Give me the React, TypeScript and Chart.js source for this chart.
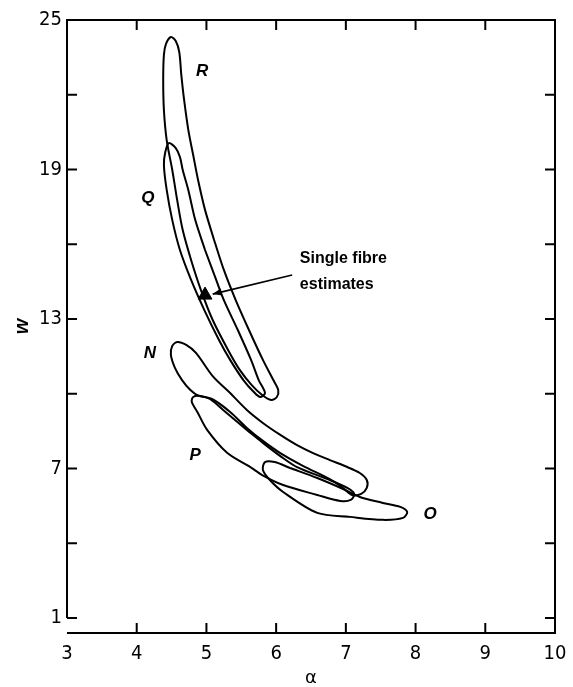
import React, { useEffect, useRef } from "react";
import { Chart, registerables } from "chart.js";

Chart.register(...registerables);

// ---- axis values ----
const X_MIN = 3;
const X_MAX = 10;
const Y_MIN = 0.4;
const Y_MAX = 25;
const X_TICKS = [3, 4, 5, 6, 7, 8, 9, 10];
const X_INNER_TICKS = [4, 5, 6, 7, 8, 9];
const Y_LABEL_TICKS = [1, 7, 13, 19, 25];
const Y_INNER_TICKS = [1, 4, 7, 10, 13, 16, 19, 22];

// ---- contours (alpha, w) ----
const contourR: number[][] = [
  [5.11, 16.17], [5.25, 14.97], [5.42, 13.76], [5.61, 12.56], [5.81, 11.36], [5.96, 10.55],
  [6.03, 10.15], [6.01, 9.87], [5.93, 9.75], [5.8, 9.95], [5.65, 10.35], [5.48, 10.95],
  [5.31, 11.76], [5.09, 12.96], [4.92, 14.17], [4.78, 15.37], [4.66, 16.57], [4.58, 17.78],
  [4.51, 18.98], [4.43, 20.18], [4.39, 21.39], [4.38, 22.59], [4.39, 23.6], [4.42, 24.04],
  [4.49, 24.32], [4.56, 24.16], [4.61, 23.72], [4.64, 22.79], [4.68, 21.79], [4.74, 20.59],
  [4.81, 19.58], [4.88, 18.58], [4.98, 17.38],
];
const contourQ: number[][] = [
  [4.98, 15.77], [5.14, 14.57], [5.25, 13.76], [5.45, 12.56], [5.64, 11.36], [5.75, 10.55],
  [5.84, 10.03], [5.77, 9.87], [5.68, 10.07], [5.53, 10.55], [5.34, 11.36], [5.18, 12.16],
  [4.97, 13.36], [4.78, 14.57], [4.62, 15.77], [4.51, 16.97], [4.43, 18.18], [4.39, 19.18],
  [4.41, 19.7], [4.46, 20.06], [4.56, 19.86], [4.62, 19.5], [4.66, 18.98], [4.74, 18.18],
  [4.84, 16.97],
];
const contourN: number[][] = [
  [5.34, 10.03], [5.58, 9.35], [5.81, 8.83], [6.06, 8.35], [6.3, 7.94], [6.53, 7.62],
  [6.77, 7.34], [7.02, 7.06], [7.2, 6.82], [7.3, 6.54], [7.3, 6.22], [7.22, 5.98],
  [7.09, 5.94], [6.96, 6.22], [6.77, 6.58], [6.39, 7.1], [6.06, 7.62], [5.81, 8.11],
  [5.58, 8.63], [5.34, 9.27], [5.08, 9.79], [4.88, 9.93], [4.77, 10.15], [4.65, 10.55],
  [4.55, 11.03], [4.49, 11.56], [4.51, 11.92], [4.58, 12.08], [4.71, 11.96], [4.85, 11.64],
  [5.09, 10.71],
];
const contourP: number[][] = [
  [5.58, 8.55], [5.81, 8.03], [6.06, 7.5], [6.3, 7.06], [6.77, 6.54], [7.02, 6.22],
  [7.12, 5.98], [7.07, 5.74], [6.92, 5.7], [6.59, 5.94], [6.1, 6.34], [5.8, 6.74],
  [5.63, 7.06], [5.3, 7.62], [5.01, 8.55], [4.87, 9.27], [4.79, 9.67], [4.81, 9.87],
  [4.91, 9.91], [5.05, 9.79], [5.24, 9.35],
];
const contourO: number[][] = [
  [6.2, 7.02], [6.59, 6.62], [6.96, 6.18], [7.2, 5.86], [7.53, 5.62], [7.78, 5.46],
  [7.88, 5.26], [7.82, 5.02], [7.53, 4.94], [7.06, 5.06], [6.59, 5.22], [6.1, 6.06],
  [5.91, 6.54], [5.81, 6.94], [5.84, 7.26], [5.98, 7.26],
];
const CONTOURS = [contourR, contourQ, contourN, contourP, contourO];

// ---- single fibre estimate ----
const SINGLE_FIBRE = [{ x: 4.98, y: 13.96 }];

// ---- labels / annotation (data coordinates) ----
const CONTOUR_LABELS = [
  { text: "R", x: 4.94, y: 22.95 },
  { text: "Q", x: 4.16, y: 17.86 },
  { text: "N", x: 4.19, y: 11.64 },
  { text: "P", x: 4.84, y: 7.54 },
  { text: "O", x: 8.21, y: 5.18 },
];
const NOTE_LINES = ["Single fibre", "estimates"];
const NOTE_X = 6.34;
const NOTE_Y = [15.41, 14.37];
const ARROW_FROM = { x: 6.23, y: 14.77 };
const ARROW_TO = { x: 5.09, y: 14.0 };

const TICK_FONT = "'Liberation Sans Narrow', 'DejaVu Sans Condensed', 'Liberation Sans', sans-serif";

const decorPlugin = {
  id: "decor",
  afterDatasetsDraw(chart: any) {
    const { ctx, chartArea: a } = chart;
    const xs = chart.scales.x;
    const ys = chart.scales.y;
    const T = 10;
    ctx.save();
    ctx.strokeStyle = "#000";
    ctx.fillStyle = "#000";
    ctx.lineWidth = 2;
    // frame (open bottom-left corner as in the original)
    ctx.beginPath();
    ctx.moveTo(a.left, ys.getPixelForValue(Y_INNER_TICKS[0]));
    ctx.lineTo(a.left, a.top);
    ctx.lineTo(a.right, a.top);
    ctx.lineTo(a.right, a.bottom);
    ctx.lineTo(a.left, a.bottom);
    ctx.stroke();
    // inward ticks
    ctx.beginPath();
    for (const v of X_INNER_TICKS) {
      const px = xs.getPixelForValue(v);
      ctx.moveTo(px, a.bottom);
      ctx.lineTo(px, a.bottom - T);
      ctx.moveTo(px, a.top);
      ctx.lineTo(px, a.top + T);
    }
    for (const v of Y_INNER_TICKS) {
      const py = ys.getPixelForValue(v);
      ctx.moveTo(a.left, py);
      ctx.lineTo(a.left + T, py);
      ctx.moveTo(a.right, py);
      ctx.lineTo(a.right - T, py);
    }
    ctx.stroke();
    // contour labels
    ctx.font = "italic bold 17px 'Liberation Sans', sans-serif";
    ctx.textAlign = "center";
    ctx.textBaseline = "middle";
    for (const l of CONTOUR_LABELS) {
      ctx.fillText(l.text, xs.getPixelForValue(l.x), ys.getPixelForValue(l.y));
    }
    // annotation text
    ctx.font = "bold 16px 'Liberation Sans', sans-serif";
    ctx.textAlign = "left";
    NOTE_LINES.forEach((t, i) => {
      ctx.fillText(t, xs.getPixelForValue(NOTE_X), ys.getPixelForValue(NOTE_Y[i]));
    });
    // arrow
    const x0 = xs.getPixelForValue(ARROW_FROM.x);
    const y0 = ys.getPixelForValue(ARROW_FROM.y);
    const x1 = xs.getPixelForValue(ARROW_TO.x);
    const y1 = ys.getPixelForValue(ARROW_TO.y);
    ctx.lineWidth = 1.6;
    ctx.beginPath();
    ctx.moveTo(x0, y0);
    ctx.lineTo(x1, y1);
    ctx.stroke();
    const ang = Math.atan2(y1 - y0, x1 - x0);
    const L = 9, W = 3.5;
    ctx.beginPath();
    ctx.moveTo(x1, y1);
    ctx.lineTo(x1 - L * Math.cos(ang) + W * Math.sin(ang), y1 - L * Math.sin(ang) - W * Math.cos(ang));
    ctx.lineTo(x1 - L * Math.cos(ang) - W * Math.sin(ang), y1 - L * Math.sin(ang) + W * Math.cos(ang));
    ctx.closePath();
    ctx.fill();
    ctx.restore();
  },
};

export default function App() {
  const ref = useRef<HTMLCanvasElement | null>(null);
  useEffect(() => {
    if (!ref.current) return;
    const datasets: any[] = CONTOURS.map((c) => ({
      data: [...c, c[0]].map(([x, y]) => ({ x, y })),
      showLine: true,
      borderColor: "#000",
      borderWidth: 2,
      pointRadius: 0,
      tension: 0.3,
      fill: false,
    }));
    datasets.push({
      data: SINGLE_FIBRE,
      showLine: false,
      pointStyle: "triangle",
      pointRadius: 8,
      backgroundColor: "#000",
      borderColor: "#000",
      borderWidth: 1,
    });
    const chart = new Chart(ref.current, {
      type: "scatter",
      data: { datasets },
      options: {
        animation: false,
        responsive: false,
        devicePixelRatio: 1,
        layout: { padding: { top: 20, right: 18, left: 0, bottom: 0 } },
        plugins: { legend: { display: false }, tooltip: { enabled: false } },
        scales: {
          x: {
            type: "linear",
            min: X_MIN,
            max: X_MAX,
            afterBuildTicks: (s: any) => {
              s.ticks = X_TICKS.map((v) => ({ value: v }));
            },
            afterFit: (s: any) => {
              s.height = 54;
              s.paddingLeft = 0;
              s.paddingRight = 0;
            },
            grid: { display: false, drawTicks: false },
            border: { display: false },
            ticks: { color: "#000", padding: 9, font: { family: TICK_FONT, size: 20 } },
            title: {
              display: true,
              text: "α",
              color: "#000",
              padding: 0,
              font: { family: "'DejaVu Sans', sans-serif", size: 18, lineHeight: 1 },
            },
          },
          y: {
            type: "linear",
            min: Y_MIN,
            max: Y_MAX,
            afterBuildTicks: (s: any) => {
              s.ticks = Y_LABEL_TICKS.map((v) => ({ value: v }));
            },
            afterFit: (s: any) => {
              s.width = 67;
              s.paddingTop = 0;
              s.paddingBottom = 0;
            },
            grid: { display: false, drawTicks: false },
            border: { display: false },
            ticks: { color: "#000", padding: 5, font: { family: TICK_FONT, size: 20 } },
            title: {
              display: true,
              text: "w",
              color: "#000",
              padding: { top: 12, bottom: 0 },
              font: { family: "'Liberation Sans', sans-serif", size: 20, style: "italic", weight: "bold", lineHeight: 1 },
            },
          },
        },
      },
      plugins: [decorPlugin],
    });
    return () => chart.destroy();
  }, []);
  return (
    <div style={{ position: "fixed", left: 0, top: 0, width: 573, height: 687, background: "#fff" }}>
      <canvas ref={ref} width={573} height={687} style={{ display: "block" }} />
    </div>
  );
}
